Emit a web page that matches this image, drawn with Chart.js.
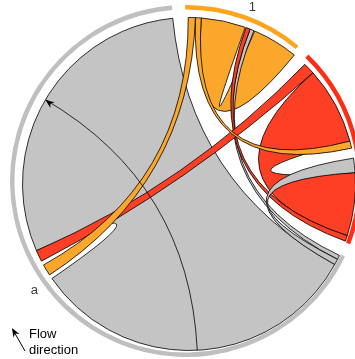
<!DOCTYPE html>
<html>
<head>
<meta charset="utf-8">
<script src="https://cdn.jsdelivr.net/npm/chart.js@4.4.1/dist/chart.umd.min.js"></script>
<style>
  html, body { margin: 0; padding: 0; background: #fff; overflow: hidden; }
  #wrap { width: 380px; height: 359px; }
</style>
</head>
<body>
<div id="wrap"><canvas id="chord" width="380" height="359"></canvas></div>
<script>
// Sectors (size in flow units, one unit = one degree of the ring)
const sectorNames = ["a", "1", "2"];
const sectorSizes = [240, 40, 67];

// Links, in drawing order: source sector + range, target sector + range
const linkSource      = ["a", "1", "2", "a", "2", "a", "2", "1", "1"];
const linkSourceStart = [3.5, 4.5, 4, 0, 64, 1.5, 0, 0, 2.5];
const linkSourceEnd   = [120, 20, 31, 1.5, 66, 3.5, 4, 2.5, 4.5];
const linkTarget      = ["a", "1", "2", "1", "1", "2", "a", "a", "2"];
const linkTargetStart = [131, 23.5, 42, 21.8, 20.3, 37, 127, 121.5, 31];
const linkTargetEnd   = [239, 39.5, 64, 23.2, 21.8, 42, 131, 125.5, 33.5];

// Styles
const ringColors = ["#bfbfbf", "#fda51f", "#ff2d15"];
const linkColors = { a: "#c4c4c4", "1": "#fba72c", "2": "#fd3f26" };
const textColor = "#3c3c3c";

const gapSize = (360 - sectorSizes.reduce((s, v) => s + v, 0)) / sectorNames.length;

// Ring data with transparent gaps between sectors
const ringData = [];
const ringBg = [];
sectorSizes.forEach((v, i) => {
  ringData.push(v, gapSize);
  ringBg.push(ringColors[i], "rgba(0,0,0,0)");
});

// Angle of a position inside a sector, read from the doughnut arc
function sectorAngle(arcs, name, u) {
  const i = sectorNames.indexOf(name);
  const arc = arcs[i * 2];
  return arc.startAngle + (u / sectorSizes[i]) * (arc.endAngle - arc.startAngle);
}

const chordPlugin = {
  id: "chordLinks",
  afterDatasetsDraw(chart) {
    const ctx = chart.ctx;
    const arcs = chart.getDatasetMeta(0).data;
    const ring = arcs[0];
    const cx = ring.x + 3;
    const cy = ring.y + 3;
    const R = ring.innerRadius - 5;
    const pt = (a, r) => [cx + r * Math.cos(a), cy + r * Math.sin(a)];

    ctx.save();
    ctx.lineJoin = "round";

    // ribbons
    for (let k = 0; k < linkSource.length; k++) {
      const s0 = sectorAngle(arcs, linkSource[k], linkSourceStart[k]);
      const s1 = sectorAngle(arcs, linkSource[k], linkSourceEnd[k]);
      const t0 = sectorAngle(arcs, linkTarget[k], linkTargetStart[k]);
      const t1 = sectorAngle(arcs, linkTarget[k], linkTargetEnd[k]);
      const pS0 = pt(s0, R);
      const pT0 = pt(t0, R);
      ctx.beginPath();
      ctx.moveTo(pS0[0], pS0[1]);
      ctx.arc(cx, cy, R, s0, s1, false);
      ctx.quadraticCurveTo(cx, cy, pT0[0], pT0[1]);
      ctx.arc(cx, cy, R, t0, t1, false);
      ctx.quadraticCurveTo(cx, cy, pS0[0], pS0[1]);
      ctx.closePath();
      ctx.fillStyle = linkColors[linkSource[k]];
      ctx.fill();
      ctx.strokeStyle = "#000";
      ctx.lineWidth = 0.8;
      ctx.stroke();
    }

    // direction line with head on the wide links
    for (let k = 0; k < linkSource.length; k++) {
      if (linkTargetEnd[k] - linkTargetStart[k] <= 50) continue;
      const ms = sectorAngle(arcs, linkSource[k], (linkSourceStart[k] + linkSourceEnd[k]) / 2);
      const mt = sectorAngle(arcs, linkTarget[k], (linkTargetStart[k] + linkTargetEnd[k]) / 2);
      const a = pt(ms, R);
      const b = pt(mt, R);
      ctx.beginPath();
      ctx.moveTo(a[0], a[1]);
      ctx.quadraticCurveTo(cx, cy, b[0], b[1]);
      ctx.strokeStyle = "#000";
      ctx.lineWidth = 0.8;
      ctx.stroke();
      drawHead(ctx, b[0], b[1], Math.atan2(b[1] - cy, b[0] - cx) + 0.12);
    }

    // sector labels
    ctx.fillStyle = textColor;
    ctx.font = "13px 'Liberation Sans', Arial, sans-serif";
    ctx.textAlign = "center";
    ctx.textBaseline = "middle";
    sectorNames.forEach((name, i) => {
      const arc = arcs[i * 2];
      const mid = (arc.startAngle + arc.endAngle) / 2;
      const r = arc.outerRadius + 12;
      ctx.fillText(name, cx + r * Math.cos(mid), cy + r * Math.sin(mid));
    });

    // flow direction key
    ctx.beginPath();
    ctx.moveTo(25, 351);
    ctx.lineTo(13, 330);
    ctx.lineWidth = 1;
    ctx.stroke();
    drawHead(ctx, 12, 328, Math.atan2(328 - 351, 12 - 25));
    ctx.textAlign = "left";
    ctx.textBaseline = "alphabetic";
    ctx.fillText("Flow", 29, 338);
    ctx.fillText("direction", 29, 354);
    ctx.restore();
  }
};

function drawHead(ctx, x, y, dir) {
  const len = 9, half = 3.5;
  const bx = x - len * Math.cos(dir), by = y - len * Math.sin(dir);
  const nx = -Math.sin(dir), ny = Math.cos(dir);
  const nxp = x - len * 0.7 * Math.cos(dir), nyp = y - len * 0.7 * Math.sin(dir);
  ctx.beginPath();
  ctx.moveTo(x, y);
  ctx.lineTo(bx + nx * half, by + ny * half);
  ctx.lineTo(nxp, nyp);
  ctx.lineTo(bx - nx * half, by - ny * half);
  ctx.closePath();
  ctx.fillStyle = "#000";
  ctx.fill();
}

new Chart(document.getElementById("chord"), {
  type: "doughnut",
  data: {
    labels: sectorNames.flatMap((n) => [n, ""]),
    datasets: [{
      data: ringData,
      backgroundColor: ringBg,
      borderWidth: 0,
      hoverOffset: 0,
    }],
  },
  options: {
    responsive: false,
    animation: false,
    events: [],
    rotation: 115.4,
    radius: 176,
    cutout: 171.5,
    layout: { padding: { left: 10, right: 18, top: 5, bottom: 2 } },
    plugins: {
      legend: { display: false },
      tooltip: { enabled: false },
    },
  },
  plugins: [chordPlugin],
});
</script>
</body>
</html>
